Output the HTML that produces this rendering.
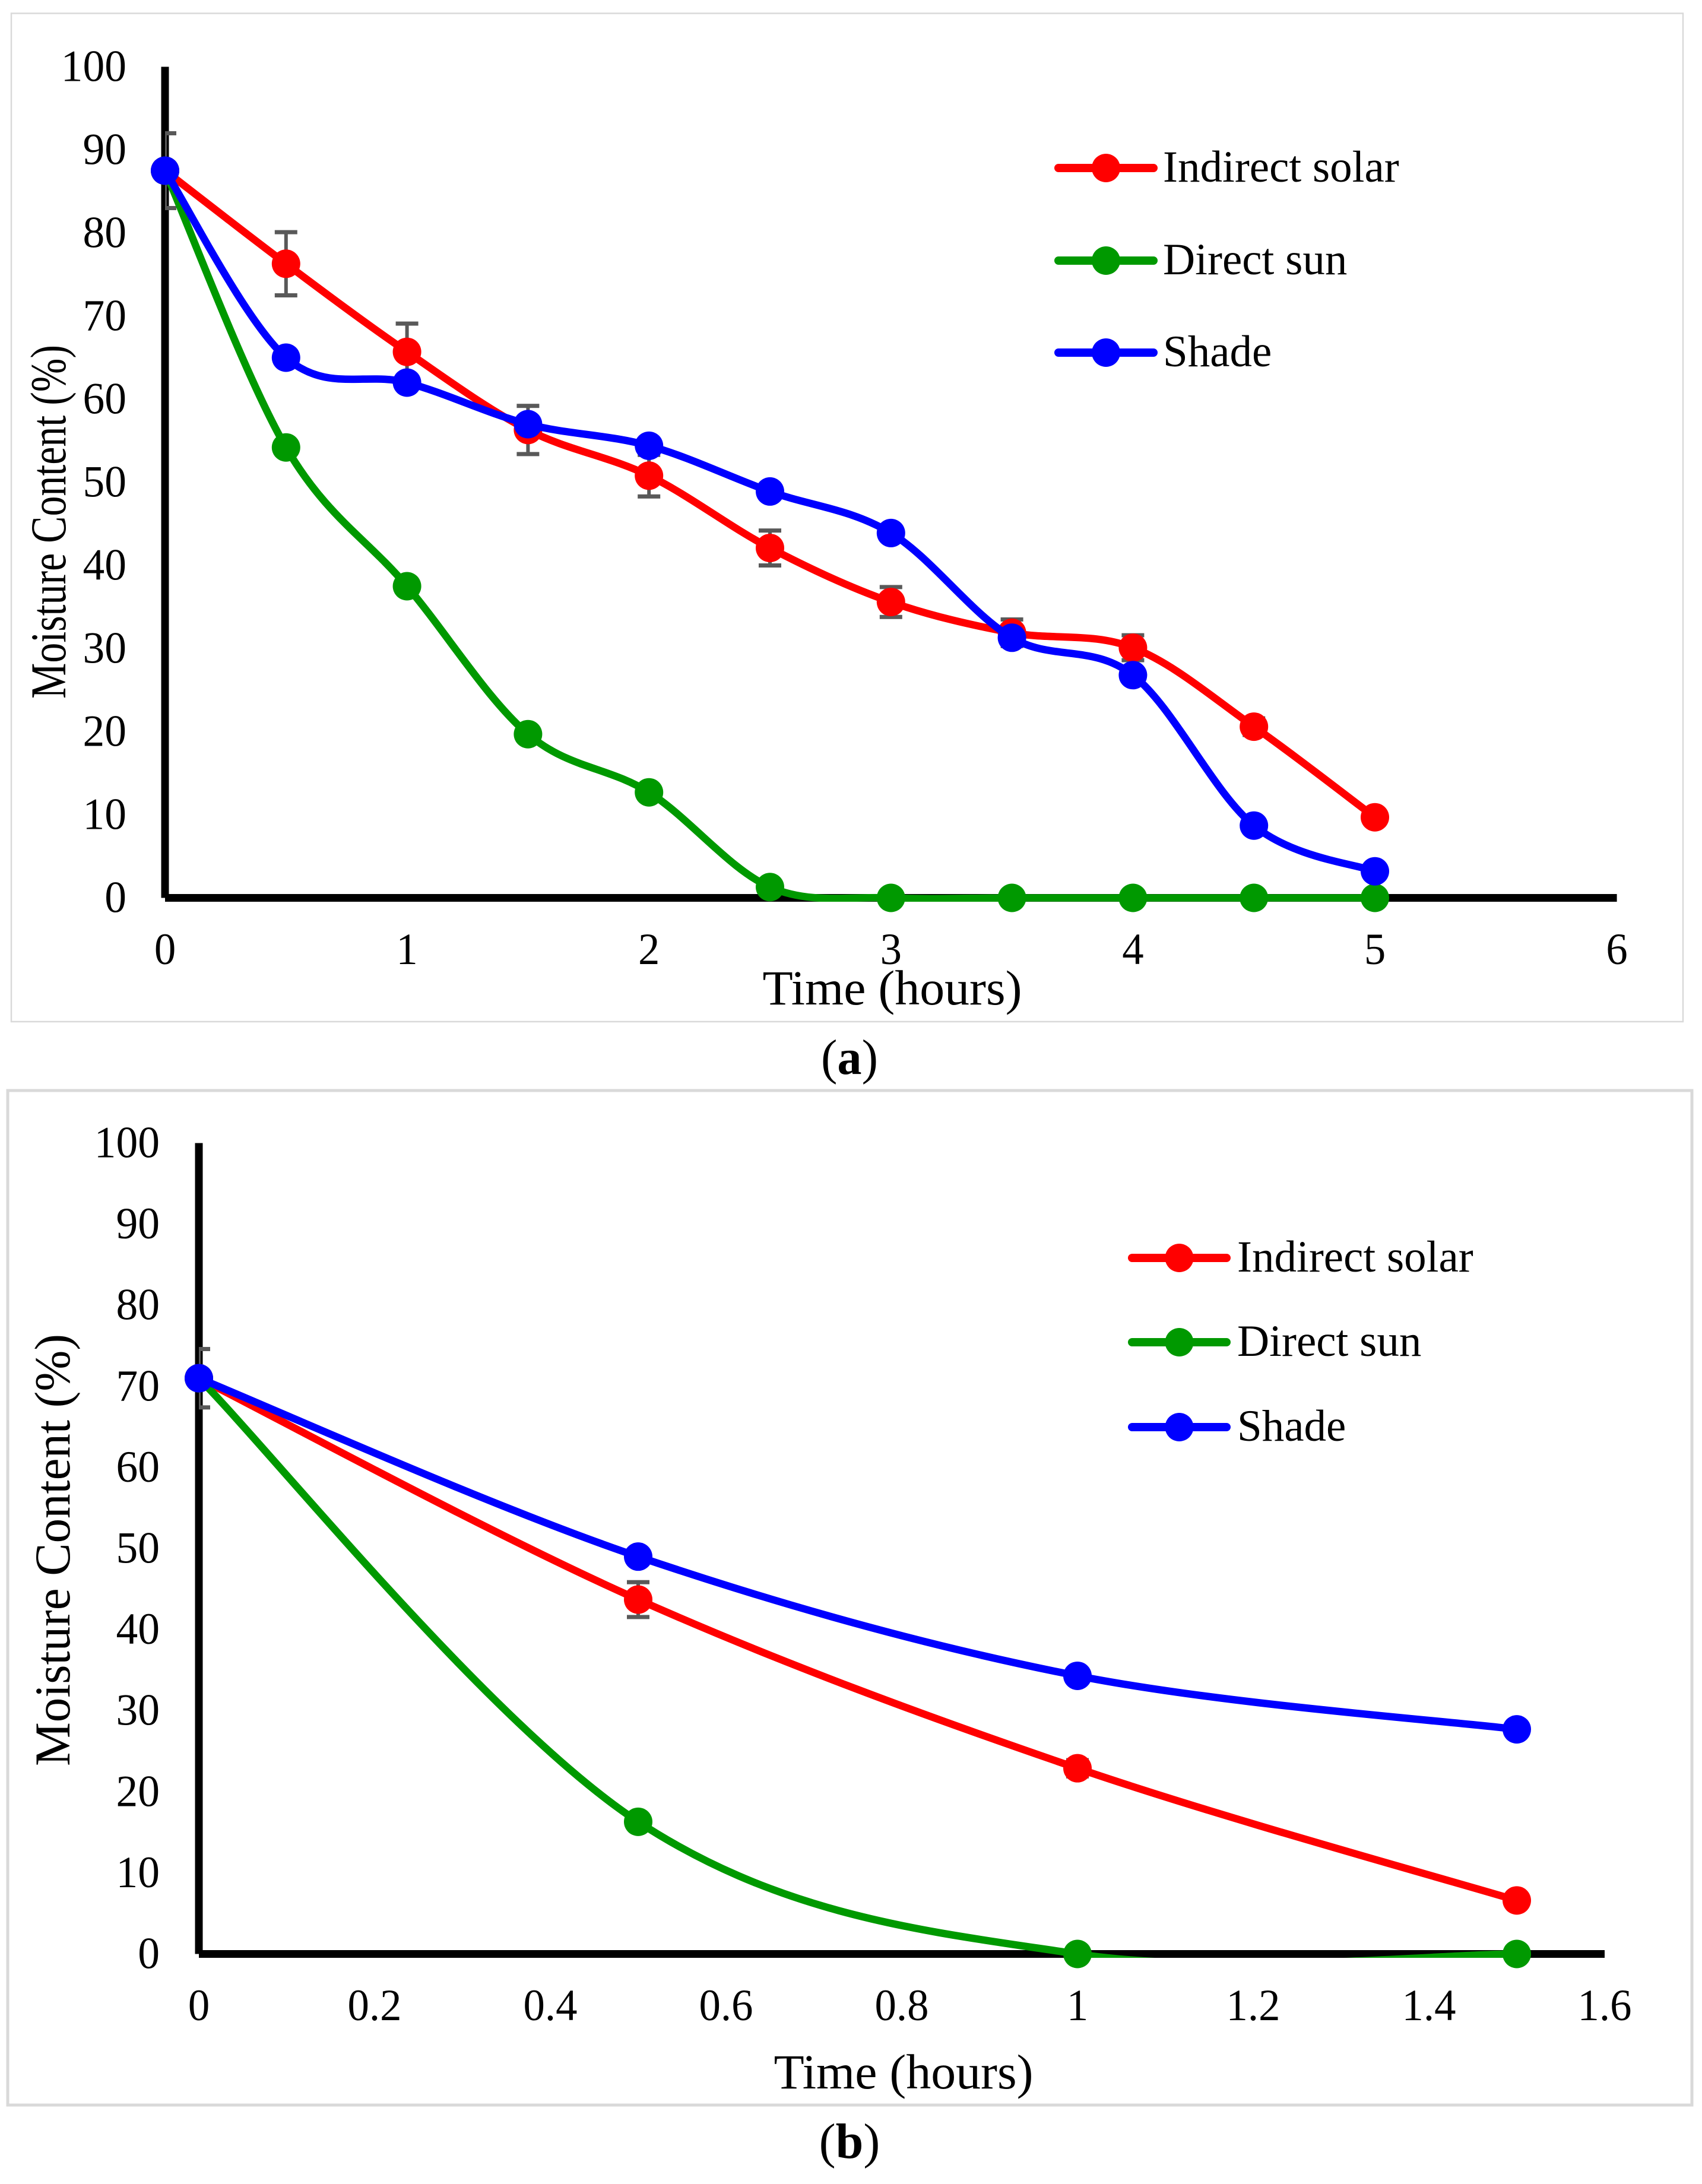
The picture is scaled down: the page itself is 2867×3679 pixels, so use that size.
<!DOCTYPE html>
<html>
<head>
<meta charset="utf-8">
<title>Moisture content drying curves</title>
<style>
html,body{margin:0;padding:0;background:#fff;}
svg{display:block;}
text{font-family:"Liberation Serif","Times New Roman",serif;fill:#000;}
</style>
</head>
<body>
<svg id="figure" xmlns="http://www.w3.org/2000/svg" width="2867" height="3679" viewBox="0 0 2867 3679">
  <rect x="0" y="0" width="2867" height="3679" fill="#fff"/>
  <rect x="19" y="22.5" width="2816" height="1698.5" fill="none" stroke="#d9d9d9" stroke-width="2.5"/>
  <rect x="13" y="1837" width="2837" height="1709" fill="none" stroke="#d9d9d9" stroke-width="5"/>
  <g id="chart-a"></g>
  <g id="chart-b"></g>
  <g transform="translate(1431 1809) scale(0.98 1)"><text font-size="84" text-anchor="middle">(<tspan font-weight="bold">a</tspan>)</text></g>
  <g transform="translate(1431 3635) scale(1 1)"><text font-size="84" text-anchor="middle">(<tspan font-weight="bold">b</tspan>)</text></g>
</svg>
<script>
// Panel (a) data
const timeA = [0, 0.5, 1, 1.5, 2, 2.5, 3, 3.5, 4, 4.5, 5];
const indirectA = [87.5, 76.3, 65.7, 56.3, 50.8, 42.1, 35.6, 31.9, 30.1, 20.6, 9.7];
const directA = [87.5, 54.2, 37.5, 19.7, 12.7, 1.3, 0, 0, 0, 0, 0];
const shadeA = [87.5, 65.0, 62.0, 57.0, 54.4, 48.9, 43.9, 31.3, 26.8, 8.7, 3.2];
const errorA = [4.5, 3.8, 3.4, 2.9, 2.5, 2.1, 1.8, 1.6, 1.5, 1.0, 0.5];
const xTicksA = [0, 1, 2, 3, 4, 5, 6];
const yTicksA = [0, 10, 20, 30, 40, 50, 60, 70, 80, 90, 100];

// Panel (b) data
const timeB = [0, 0.5, 1, 1.5];
const indirectB = [71, 43.7, 22.9, 6.6];
const directB = [71, 16.3, 0, 0];
const shadeB = [71, 49, 34.3, 27.7];
const errorB = [3.6, 2.15, 1.0, 0.4];
const xTicksB = [0, 0.2, 0.4, 0.6, 0.8, 1, 1.2, 1.4, 1.6];
const yTicksB = [0, 10, 20, 30, 40, 50, 60, 70, 80, 90, 100];

const seriesNames = ["Indirect solar", "Direct sun", "Shade"];
const seriesColors = ["#ff0000", "#009900", "#0000ff"];

const NS = "http://www.w3.org/2000/svg";

function make(parent, tag, name, attrs) {
  const el = document.createElementNS(NS, tag);
  
  
  for (const k in attrs) el.setAttribute(k, attrs[k]);
  parent.appendChild(el);
  return el;
}

function label(parent, name, x, y, str, size, anchor, sx) {
  const el = make(parent, "text", name, {
    transform: "translate(" + x + " " + y + ") scale(" + sx + " 1)",
    "font-size": size,
    "text-anchor": anchor
  });
  el.textContent = str;
  return el;
}

function smoothPath(px, py) {
  let d = "M" + px[0] + " " + py[0];
  const n = px.length;
  for (let i = 0; i < n - 1; i++) {
    const a = Math.max(i - 1, 0), b = Math.min(i + 2, n - 1);
    const c1x = px[i] + (px[i + 1] - px[a]) / 6;
    const c1y = py[i] + (py[i + 1] - py[a]) / 6;
    const c2x = px[i + 1] - (px[b] - px[i]) / 6;
    const c2y = py[i + 1] - (py[b] - py[i]) / 6;
    d += "C" + c1x + " " + c1y + " " + c2x + " " + c2y + " " + px[i + 1] + " " + py[i + 1];
  }
  return d;
}

function renderChart(root, o) {
  const sx = v => o.x0 + v * o.xUnit;
  const sy = v => o.y0 - v * o.yUnit;
  const xMax = o.xTicks[o.xTicks.length - 1];
  const yMax = o.yTicks[o.yTicks.length - 1];

  // clip for error bars (left half at x=0 is cut off by the plot area)
  const clipId = root.id + "-clip";
  const lineClipId = root.id + "-line-clip";
  const defs = make(root, "defs", "plot-defs", {});
  const clip = make(defs, "clipPath", "plot-clip", { id: clipId });
  make(clip, "rect", "plot-clip-rect", { x: sx(0), y: 0, width: 2867, height: 3679 });
  // lines are cut off at the lower edge of the x axis
  const lineClip = make(defs, "clipPath", "line-clip", { id: lineClipId });
  make(lineClip, "rect", "line-clip-rect", { x: 0, y: 0, width: 2867, height: o.y0 + 6.5 });

  // axes
  make(root, "rect", "y-axis-line", { x: sx(0) - 6.5, y: sy(yMax), width: 13, height: o.y0 - sy(yMax), fill: "#000" });
  make(root, "rect", "x-axis-line", { x: sx(0), y: o.y0 - 6.5, width: sx(xMax) - sx(0), height: 13, fill: "#000" });

  // tick labels
  o.yTicks.forEach(v => {
    label(root, "y-tick-label", o.yLabelRight, sy(v) + 24, String(v), 75, "end", 0.98);
  });
  o.xTicks.forEach(v => {
    label(root, "x-tick-label", sx(v), o.xLabelBase, String(v), 75, "middle", 0.97);
  });

  // axis titles
  const yt = make(root, "text", "y-axis-title", {
    transform: "translate(" + o.yTitleX + " " + o.yTitleY + ") rotate(-90)",
    "font-size": 85, "text-anchor": "middle", textLength: o.yTitleLen, lengthAdjust: "spacingAndGlyphs"
  });
  yt.textContent = "Moisture Content (%)";
  const xt = make(root, "text", "x-axis-title", {
    x: o.xTitleX, y: o.xTitleY,
    "font-size": 83, "text-anchor": "middle", textLength: 437, lengthAdjust: "spacingAndGlyphs"
  });
  xt.textContent = "Time (hours)";

  // error bars on indirect solar series
  const errGroup = make(root, "g", "error-bars", { "clip-path": "url(#" + clipId + ")", fill: "#595959" });
  o.time.forEach((t, i) => {
    const top = sy(o.series[0][i] + o.error[i]);
    const bot = sy(o.series[0][i] - o.error[i]);
    const cx = sx(t);
    make(errGroup, "rect", "error-bar-stem", { x: cx - 3, y: top, width: 6, height: bot - top });
    make(errGroup, "rect", "error-bar-cap-top", { x: cx - 19, y: top - 3.5, width: 38, height: 7 });
    make(errGroup, "rect", "error-bar-cap-bottom", { x: cx - 19, y: bot - 3.5, width: 38, height: 7 });
  });

  // series
  o.series.forEach((vals, s) => {
    const g = make(root, "g", "series-" + seriesNames[s].toLowerCase().replace(" ", "-"), {});
    const px = o.time.map(sx);
    const py = vals.map(sy);
    make(g, "path", "series-line", {
      d: smoothPath(px, py), fill: "none", stroke: seriesColors[s], "stroke-width": 12.5, "stroke-linecap": "round",
      "clip-path": "url(#" + lineClipId + ")"
    });
    px.forEach((x, i) => {
      make(g, "circle", "series-point", { cx: x, cy: py[i], r: 24, fill: seriesColors[s] });
    });
  });

  // legend
  seriesNames.forEach((nm, s) => {
    const g = make(root, "g", "legend-entry", {});
    const y = o.legendY[s];
    make(g, "line", "legend-line", {
      x1: o.legendX1 + 7, x2: o.legendX2 - 7, y1: y, y2: y, stroke: seriesColors[s], "stroke-width": 14, "stroke-linecap": "round"
    });
    make(g, "circle", "legend-marker", { cx: (o.legendX1 + o.legendX2) / 2, cy: y, r: 24, fill: seriesColors[s] });
    const t = make(g, "text", "legend-label", { x: o.legendTextX, y: y + 23, "font-size": 75 });
    t.textContent = nm;
  });
}

renderChart(document.getElementById("chart-a"), {
  x0: 278, xUnit: 407.6, y0: 1512.5, yUnit: 14,
  time: timeA, series: [indirectA, directA, shadeA], error: errorA,
  xTicks: xTicksA, yTicks: yTicksA,
  yLabelRight: 213, xLabelBase: 1624,
  yTitleX: 110, yTitleY: 879, yTitleLen: 596,
  xTitleX: 1503, xTitleY: 1692,
  legendX1: 1776, legendX2: 1950, legendY: [283, 439, 594], legendTextX: 1959
});

renderChart(document.getElementById("chart-b"), {
  x0: 335, xUnit: 1480, y0: 3291.5, yUnit: 13.66,
  time: timeB, series: [indirectB, directB, shadeB], error: errorB,
  xTicks: xTicksB, yTicks: yTicksB,
  yLabelRight: 269, xLabelBase: 3403,
  yTitleX: 117, yTitleY: 2611, yTitleLen: 728,
  xTitleX: 1522, xTitleY: 3518,
  legendX1: 1900, legendX2: 2073, legendY: [2119, 2261, 2404], legendTextX: 2084
});
</script>
</body>
</html>
